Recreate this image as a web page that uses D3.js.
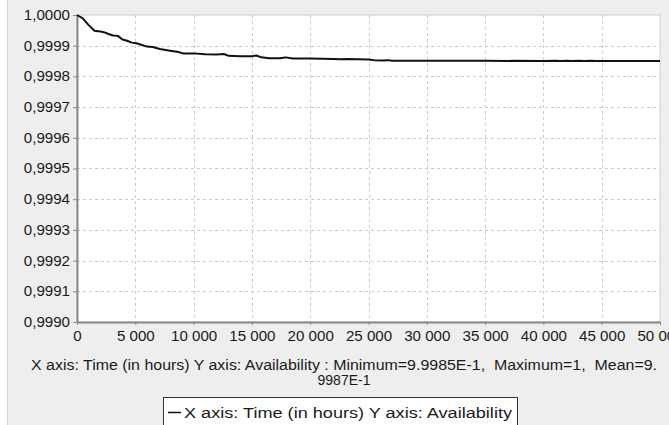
<!DOCTYPE html>
<html>
<head>
<meta charset="utf-8">
<script src="https://cdn.jsdelivr.net/npm/d3@7"></script>
<style>
  body { margin: 0; background: #fff; }
  svg { display: block; font-family: "Liberation Sans", Arial, sans-serif; }
  text { white-space: pre; }
</style>
</head>
<body>
<svg id="chart" width="669" height="425"></svg>
<script>
// Time in hours and availability
const hours = [0, 500, 1000, 1500, 2000, 2300, 2700, 3100, 3500, 3900, 4300, 4700, 5100, 5500,
  6000, 6500, 7100, 7600, 8100, 8600, 9100, 10000, 11000, 12000, 12600, 13000, 14000, 15000,
  15400, 15800, 16500, 17400, 17900, 18500, 20000, 22000, 22600, 23200, 25000, 25500, 26200,
  26700, 27000, 30000, 35000, 37000, 37500, 40000, 41000, 41500, 42000, 42500, 43000, 43500,
  44000, 44500, 45000, 50000];
const availability = [1.0, 0.999989, 0.999967, 0.999949, 0.999946, 0.999944, 0.999938, 0.999933,
  0.999932, 0.99992, 0.999916, 0.99991, 0.999908, 0.999903, 0.999897, 0.999896, 0.999889,
  0.999886, 0.999883, 0.99988, 0.999875, 0.999875, 0.999872, 0.999871, 0.999873, 0.999867,
  0.999866, 0.999866, 0.999868, 0.999862, 0.999859, 0.999859, 0.999862, 0.999858, 0.999858,
  0.999857, 0.999856, 0.999857, 0.999855, 0.999853, 0.999852, 0.999853, 0.999851, 0.999851,
  0.999851, 0.99985, 0.999851, 0.99985, 0.999851, 0.99985, 0.999851, 0.99985, 0.999851,
  0.99985, 0.999851, 0.99985, 0.99985, 0.99985];

const xTicks = [0, 5000, 10000, 15000, 20000, 25000, 30000, 35000, 40000, 45000, 50000];
const yTicks = [0.999, 0.9991, 0.9992, 0.9993, 0.9994, 0.9995, 0.9996, 0.9997, 0.9998, 0.9999, 1.0];

const summaryLines = [
  'X axis: Time (in hours) Y axis: Availability : Minimum=9.9985E-1,  Maximum=1,  Mean=9.',
  '9987E-1'
];
const legendLabel = 'X axis: Time (in hours) Y axis: Availability';

const margin = { top: 15, right: 9, bottom: 103, left: 77 };
const W = 669, H = 425;
const width = W - margin.left - margin.right;
const height = H - margin.top - margin.bottom;
const stretch = 1.08; // the source font is a little wider than Liberation Sans

const svg = d3.select('#chart');

// Grey panel behind everything
svg.append('rect').attr('x', 7).attr('y', 0).attr('width', W - 7).attr('height', H)
  .attr('fill', '#eeeeee');
svg.append('line').attr('x1', 7.5).attr('x2', 7.5).attr('y1', 0).attr('y2', H)
  .attr('stroke', '#d4d4d4');

const xScale = d3.scaleLinear().domain([0, 50000]).range([0, width]);
const yScale = d3.scaleLinear().domain([0.999, 1.0]).range([height, 0]);

const chart = svg.append('g').attr('transform', `translate(${margin.left},${margin.top})`);

chart.append('rect').attr('width', width).attr('height', height)
  .attr('fill', '#fff').attr('stroke', '#d0d0d0');

// Dashed grid
chart.append('g').selectAll('line.gx').data(xTicks.slice(1, -1)).join('line')
  .attr('x1', d => Math.round(xScale(d)) + 0.5).attr('x2', d => Math.round(xScale(d)) + 0.5)
  .attr('y1', 0).attr('y2', height)
  .attr('stroke', '#cccccc').attr('stroke-dasharray', '3,3');
chart.append('g').selectAll('line.gy').data(yTicks.slice(0, -1)).join('line')
  .attr('y1', d => Math.round(yScale(d)) + 0.5).attr('y2', d => Math.round(yScale(d)) + 0.5)
  .attr('x1', 0).attr('x2', width)
  .attr('stroke', '#cccccc').attr('stroke-dasharray', '3,3');

const fmtX = d => d3.format(',')(d).replace(/,/g, ' ');
const fmtY = d => d3.format('.4f')(d).replace('.', ',');

const xAxis = d3.axisBottom(xScale).tickValues(xTicks).tickFormat(fmtX).tickSize(3).tickSizeOuter(0);
const yAxis = d3.axisLeft(yScale).tickValues(yTicks).tickFormat(fmtY).tickSize(4).tickSizeOuter(0);

const xAxisG = chart.append('g').attr('transform', `translate(0,${height})`).call(xAxis);
const yAxisG = chart.append('g').call(yAxis);

[xAxisG, yAxisG].forEach(g => {
  g.select('.domain').attr('stroke', '#888').attr('stroke-width', 2);
  g.selectAll('.tick line').attr('stroke', '#888');
  g.selectAll('.tick text').attr('fill', '#1a1a1a')
    .attr('transform', `scale(${stretch},1)`)
    .style('font-family', '"Liberation Sans", Arial, sans-serif').style('font-size', '14px');
});
xAxisG.selectAll('.tick text').attr('dy', '0.95em');
yAxisG.selectAll('.tick text').attr('x', -7 / stretch);

// Availability curve
const points = hours.map((h, i) => ({ h, a: availability[i] }));
const line = d3.line().x(d => xScale(d.h)).y(d => yScale(d.a));
chart.append('path').datum(points)
  .attr('fill', 'none').attr('stroke', '#111').attr('stroke-width', 2)
  .attr('stroke-linejoin', 'round').attr('d', line);

// Summary text under the axis
svg.append('g').selectAll('text').data(summaryLines).join('text')
  .attr('x', 344).attr('y', (d, i) => 370 + i * 15)
  .attr('text-anchor', 'middle').attr('fill', '#1a1a1a').style('font-size', '14px')
  .attr('textLength', (d, i) => i === 0 ? 626 : null)
  .attr('lengthAdjust', 'spacingAndGlyphs')
  .text(d => d);

// Legend box
const legend = svg.append('g').attr('transform', 'translate(163,397)');
legend.append('rect').attr('x', 0.5).attr('y', 0.5).attr('width', 354).attr('height', 40)
  .attr('fill', '#fff').attr('stroke', '#333');
legend.append('line').attr('x1', 5).attr('x2', 18).attr('y1', 15.5).attr('y2', 15.5)
  .attr('stroke', '#111').attr('stroke-width', 1.5);
legend.append('text').attr('x', 21).attr('y', 20.5).attr('fill', '#1a1a1a')
  .style('font-size', '14px')
  .attr('textLength', 328).attr('lengthAdjust', 'spacingAndGlyphs')
  .text(legendLabel);
</script>
</body>
</html>
